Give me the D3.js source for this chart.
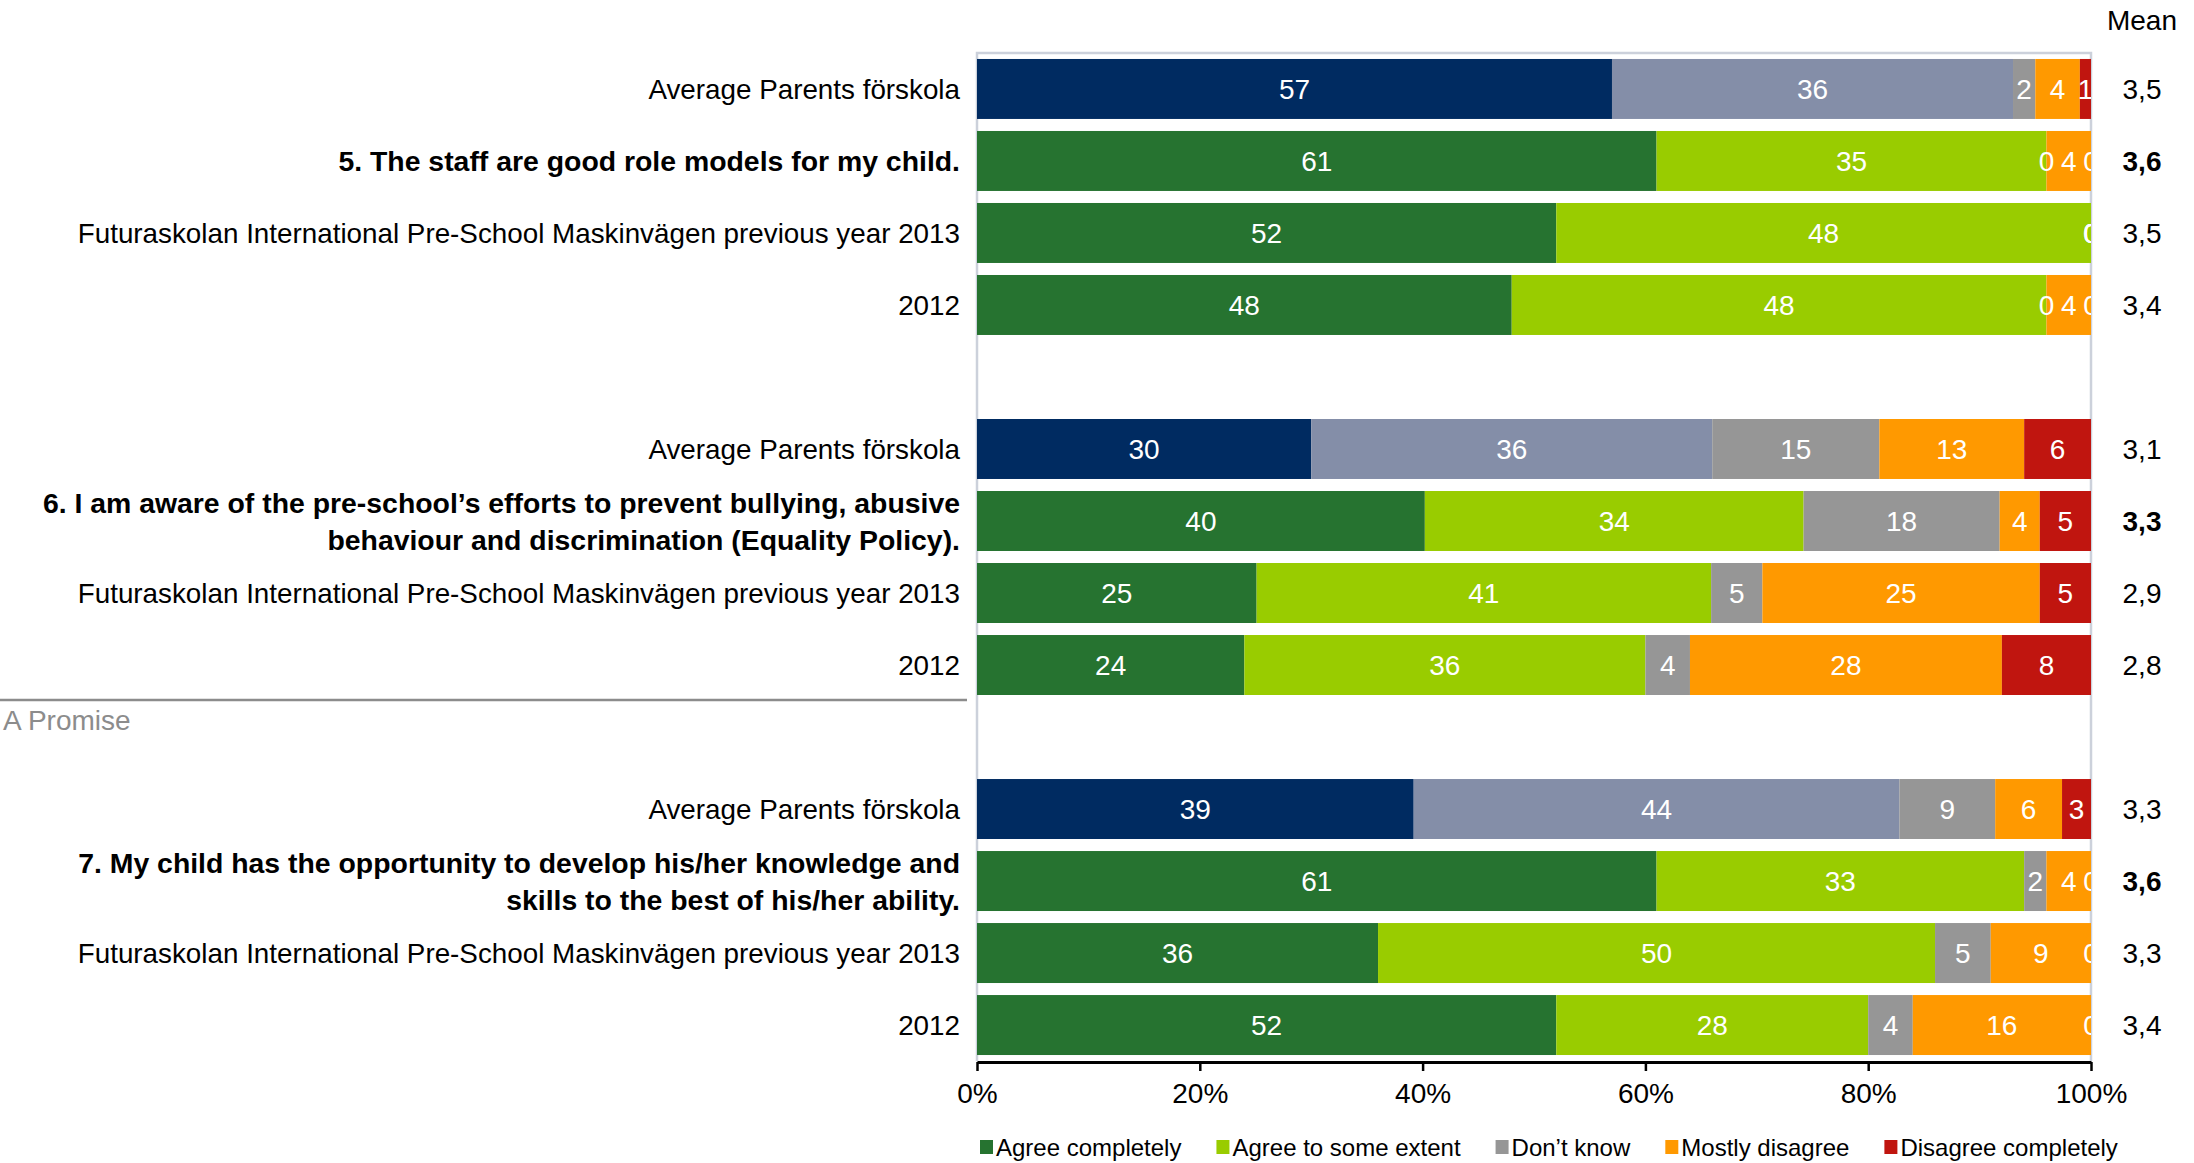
<!DOCTYPE html>
<html lang="en">
<head>
  <meta charset="UTF-8">
  <title>Parents survey – förskola</title>
  <style>
    * {
      box-sizing: border-box;
      margin: 0;
    }
    body {
      background: #fff;
      overflow: hidden;
    }
    svg {
      display: block;
      font-family: "Liberation Sans", Arial, sans-serif;
    }
  </style>
</head>
<body>
  <svg></svg>
  <script src="https://d3js.org/d3.v7.min.js"></script>
  <script>
    const categories = [
      'Average Parents förskola',
      '5. The staff are good role models for my child.',
      'Futuraskolan International Pre-School Maskinvägen previous year 2013',
      '2012',
      'Average Parents förskola',
      '6. I am aware of the pre-school’s efforts to prevent bullying, abusive\nbehaviour and discrimination (Equality Policy).',
      'Futuraskolan International Pre-School Maskinvägen previous year 2013',
      '2012',
      'Average Parents förskola',
      '7. My child has the opportunity to develop his/her knowledge and\nskills to the best of his/her ability.',
      'Futuraskolan International Pre-School Maskinvägen previous year 2013',
      '2012'
    ];
    const rowTypes = ['avg', 'question', 'prev', 'prev',
                      'avg', 'question', 'prev', 'prev',
                      'avg', 'question', 'prev', 'prev'];

    const seriesNames = ['Agree completely', 'Agree to some extent', 'Don’t know', 'Mostly disagree', 'Disagree completely'];
    const agreeCompletely    = [57, 61, 52, 48,   30, 40.2, 25.1, 24,   39.2, 61, 36, 52];
    const agreeSomeExtent    = [36, 35, 48, 48,   36, 34,   40.8, 36,   43.6, 33, 50, 28];
    const dontKnow           = [2,  0,  0,  0,    15, 17.6, 4.6,  4,    8.6,  2,  5,  4];
    const mostlyDisagree     = [4,  4,  0,  4,    13, 3.6,  24.9, 28,   6.0,  4,  9,  16];
    const disagreeCompletely = [1,  0,  0,  0,    6,  4.6,  4.6,  8,    2.6,  0,  0,  0];
    const means = [3.5, 3.6, 3.5, 3.4,   3.1, 3.3, 2.9, 2.8,   3.3, 3.6, 3.3, 3.4];
    const xTicks = [0, 20, 40, 60, 80, 100];

    const seriesColors = ['#267330', '#99CC00', '#969696', '#FF9900', '#C0150F'];
    const avgColors = ['#002B61', '#848EA8'];

    const width = 2194;
    const height = 1163;
    const plot = { left: 977, right: 2091, top: 53, bottom: 1061 };
    const groupSize = 4;

    const svg = d3.select('svg')
      .attr('width', width)
      .attr('height', height);

    const rows = categories.map((label, i) => ({
      id: 'r' + i,
      label: label,
      type: rowTypes[i],
      mean: means[i],
      'Agree completely': agreeCompletely[i],
      'Agree to some extent': agreeSomeExtent[i],
      'Don’t know': dontKnow[i],
      'Mostly disagree': mostlyDisagree[i],
      'Disagree completely': disagreeCompletely[i]
    }));

    // one empty slot between question groups
    const slots = [];
    rows.forEach((r, i) => {
      if (i > 0 && i % groupSize === 0) slots.push('gap' + i);
      slots.push(r.id);
    });

    const x = d3.scaleLinear().domain([0, 100]).range([plot.left, plot.right]);
    const y = d3.scaleBand()
      .domain(slots)
      .range([plot.top, plot.bottom])
      .paddingInner(0.167)
      .paddingOuter(0.083);

    const stacked = d3.stack().keys(seriesNames)(rows);
    const fmt = d3.format('.0f');
    const commaLocale = d3.formatLocale({ decimal: ',', thousands: ' ', grouping: [3], currency: ['', ''] });
    const meanFmt = commaLocale.format('.1f');

    function segColor(key, row) {
      const k = seriesNames.indexOf(key);
      if (row.type === 'avg' && k < 2) return avgColors[k];
      return seriesColors[k];
    }

    // plot frame
    svg.append('path')
      .attr('d', `M${plot.left},${plot.bottom} V${plot.top} H${plot.right} V${plot.bottom}`)
      .attr('stroke', '#CCD1DB')
      .attr('stroke-width', 2.5)
      .attr('fill', 'none');

    svg.append('defs')
      .append('clipPath')
      .attr('id', 'plot-clip')
      .append('rect')
      .attr('x', plot.left)
      .attr('y', plot.top)
      .attr('width', plot.right - plot.left)
      .attr('height', plot.bottom - plot.top);

    const layers = svg.append('g')
      .selectAll('g')
      .data(stacked)
      .join('g');

    layers.selectAll('rect')
      .data(s => s.map(d => ({ key: s.key, d: d })))
      .join('rect')
      .attr('x', e => x(e.d[0]))
      .attr('y', e => y(e.d.data.id))
      .attr('width', e => x(e.d[1]) - x(e.d[0]))
      .attr('height', y.bandwidth())
      .attr('fill', e => segColor(e.key, e.d.data));

    const labels = svg.append('g')
      .attr('clip-path', 'url(#plot-clip)')
      .attr('font-size', 28)
      .attr('fill', '#fff')
      .attr('text-anchor', 'middle');

    stacked.forEach(s => {
      labels.selectAll(null)
        .data(s)
        .join('text')
        .attr('x', d => x((d[0] + d[1]) / 2))
        .attr('y', d => y(d.data.id) + y.bandwidth() / 2)
        .attr('dy', '0.36em')
        .text(d => fmt(d[1] - d[0]));
    });

    // category labels
    const cat = svg.append('g')
      .attr('text-anchor', 'end')
      .attr('fill', '#000');

    rows.forEach(r => {
      const lines = r.label.split('\n');
      const cy = y(r.id) + y.bandwidth() / 2;
      const bold = r.type === 'question';
      const t = cat.append('text')
        .attr('font-size', bold ? 28.4 : 27.8)
        .attr('font-weight', bold ? 'bold' : 'normal');
      lines.forEach((line, i) => {
        t.append('tspan')
          .attr('x', 960)
          .attr('y', cy + (i - (lines.length - 1) / 2) * 37)
          .attr('dy', '0.36em')
          .text(line);
      });
    });

    // mean column
    svg.append('text')
      .attr('x', 2142)
      .attr('y', 20)
      .attr('dy', '0.36em')
      .attr('text-anchor', 'middle')
      .attr('font-size', 28)
      .text('Mean');

    svg.append('g')
      .selectAll('text')
      .data(rows)
      .join('text')
      .attr('x', 2142)
      .attr('y', d => y(d.id) + y.bandwidth() / 2)
      .attr('dy', '0.36em')
      .attr('text-anchor', 'middle')
      .attr('font-size', 28)
      .attr('font-weight', d => d.type === 'question' ? 'bold' : 'normal')
      .text(d => meanFmt(d.mean));

    // x axis
    const xAxis = svg.append('g')
      .attr('transform', `translate(0,${plot.bottom + 1})`)
      .call(d3.axisBottom(x)
        .tickValues(xTicks)
        .tickFormat(d => d + '%')
        .tickSize(9)
        .tickSizeOuter(0)
        .tickPadding(12));
    xAxis.select('.domain').attr('stroke', '#000').attr('stroke-width', 3);
    xAxis.selectAll('.tick line').attr('stroke', '#000').attr('stroke-width', 2.5);
    xAxis.selectAll('.tick text')
      .attr('font-family', '"Liberation Sans", Arial, sans-serif')
      .attr('font-size', 28)
      .attr('fill', '#000');

    // slide leftovers: divider and section title
    svg.append('line')
      .attr('x1', 0)
      .attr('x2', 967)
      .attr('y1', 700)
      .attr('y2', 700)
      .attr('stroke', '#8C8C8C')
      .attr('stroke-width', 2.5);
    svg.append('text')
      .attr('x', 3)
      .attr('y', 730)
      .attr('font-size', 28)
      .attr('fill', '#8C8C8C')
      .text('A Promise');

    // legend
    const legend = svg.append('g')
      .attr('transform', 'translate(980,1147)');
    let lx = 0;
    seriesNames.forEach((name, i) => {
      const item = legend.append('g').attr('transform', `translate(${lx},0)`);
      item.append('rect')
        .attr('x', 0)
        .attr('y', -7)
        .attr('width', 13)
        .attr('height', 14)
        .attr('fill', seriesColors[i]);
      const t = item.append('text')
        .attr('x', 16)
        .attr('dy', '0.36em')
        .attr('font-size', 24)
        .text(name);
      lx += 16 + t.node().getComputedTextLength() + 35;
    });
  </script>
</body>
</html>
